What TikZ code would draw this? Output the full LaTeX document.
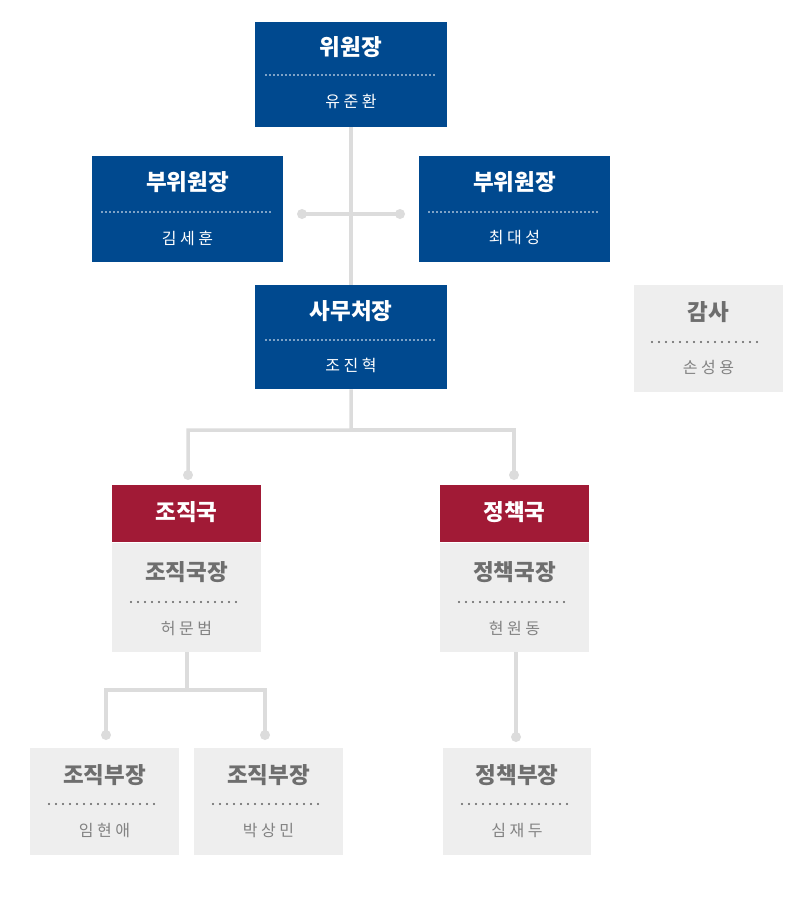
\documentclass[tikz,border=0pt]{standalone}
\usepackage{fontspec}
\setmainfont{Noto Sans CJK KR}
\newfontfamily\namefont[LetterSpace=22]{Noto Sans CJK KR}
\definecolor{orgblue}{RGB}{0,73,143}
\definecolor{orgred}{RGB}{161,26,54}
\definecolor{boxgray}{RGB}{238,238,238}
\definecolor{titlegray}{RGB}{110,110,110}
\definecolor{dotgray}{RGB}{95,95,95}
\definecolor{namegray}{RGB}{130,130,130}
\definecolor{conngray}{RGB}{220,220,220}
\tikzset{
  x=1pt, y=-1pt,
  bluebox/.style={fill=orgblue, draw=none, anchor=north west, inner sep=0pt},
  redbox/.style={fill=orgred, draw=none, anchor=north west, inner sep=0pt},
  graybox/.style={fill=boxgray, draw=none, anchor=north west, inner sep=0pt},
  wtitle/.style={text=white, font=\fontsize{22.5}{26}\selectfont\bfseries, inner sep=0pt},
  wname/.style={text=white, font=\fontsize{16}{19}\selectfont\namefont, inner sep=0pt},
  gtitle/.style={text=titlegray, font=\fontsize{22.5}{26}\selectfont\bfseries, inner sep=0pt},
  gname/.style={text=namegray, font=\fontsize{16}{19}\selectfont\namefont, inner sep=0pt},
  wdots/.style={white, line width=1.9pt, line cap=round, dash pattern=on 0pt off 4pt},
  gdots/.style={dotgray, line width=2.4pt, line cap=round, dash pattern=on 0pt off 7pt},
  conn/.style={conngray, line width=3.5pt},
  cdot/.style={fill=conngray, draw=none}
}
\begin{document}
\begin{tikzpicture}
\useasboundingbox (0,0) rectangle (800,900);
\coordinate (vl) at (302,214);
\coordinate (vr) at (400,214);
\coordinate (j1) at (351,430);
\coordinate (d1) at (188,475);
\coordinate (d2) at (514,475);
\coordinate (j2) at (187,690);
\coordinate (d3) at (106,735);
\coordinate (d4) at (265,735);
\coordinate (d5) at (516,737);

% boxes
\node[bluebox, minimum width=192pt, minimum height=105pt] (chair) at (255,22) {};
\node[bluebox, minimum width=191pt, minimum height=106pt] (vcl) at (92,156) {};
\node[bluebox, minimum width=191pt, minimum height=106pt] (vcr) at (419,156) {};
\node[bluebox, minimum width=192pt, minimum height=104pt] (sec) at (255,285) {};
\node[graybox, minimum width=149pt, minimum height=107pt] (aud) at (634,285) {};
\node[redbox, minimum width=149pt, minimum height=57pt] (orgd) at (112,485) {};
\node[graybox, minimum width=149pt, minimum height=109pt] (orgh) at (112,543) {};
\node[redbox, minimum width=149pt, minimum height=57pt] (pold) at (440,485) {};
\node[graybox, minimum width=149pt, minimum height=109pt] (polh) at (440,543) {};
\node[graybox, minimum width=149pt, minimum height=107pt] (om1) at (30,748) {};
\node[graybox, minimum width=149pt, minimum height=107pt] (om2) at (194,748) {};
\node[graybox, minimum width=148pt, minimum height=107pt] (pm1) at (443,748) {};

% connectors
\draw[conn] (chair.south) -- (sec.north);
\draw[conn] (vl) -- (vr);
\fill[cdot] (vl) circle (5);
\fill[cdot] (vr) circle (5);
\draw[conn] (sec.south) -- (j1) -| (d1);
\draw[conn] (j1) -| (d2);
\fill[cdot] (d1) circle (5);
\fill[cdot] (d2) circle (5);
\draw[conn] (orgh.south -| j2) -- (j2) -| (d3);
\draw[conn] (j2) -| (d4);
\fill[cdot] (d3) circle (5);
\fill[cdot] (d4) circle (5);
\draw[conn] (polh.south -| d5) -- (d5);
\fill[cdot] (d5) circle (5);

% texts
\node[wtitle] (chairT) at (351,47) {위원장};
\draw[wdots] (266,75) -- (437,75);
\node[wname] (chairN) at (351,101) {유준환};

\node[wtitle] (vclT) at (187.5,182) {부위원장};
\draw[wdots] (102,212) -- (273,212);
\node[wname] (vclN) at (187.5,238) {김세훈};

\node[wtitle] (vcrT) at (514.5,182) {부위원장};
\draw[wdots] (429,212) -- (600,212);
\node[wname] (vcrN) at (514.5,238) {최대성};

\node[wtitle] (secT) at (351,311) {사무처장};
\draw[wdots] (266,340) -- (437,340);
\node[wname] (secN) at (351,365) {조진혁};

\node[gtitle] (audT) at (708.5,312) {감사};
\draw[gdots] (652,342) -- (764,342);
\node[gname] (audN) at (708.5,367) {손성용};

\node[wtitle] (orgdT) at (186.5,512) {조직국};
\node[gtitle] (orghT) at (186.5,572) {조직국장};
\draw[gdots] (131,602) -- (243,602);
\node[gname] (orghN) at (186.5,628) {허문범};

\node[wtitle] (poldT) at (514.5,512) {정책국};
\node[gtitle] (polhT) at (514.5,572) {정책국장};
\draw[gdots] (459,602) -- (571,602);
\node[gname] (polhN) at (514.5,628) {현원동};

\node[gtitle] (om1T) at (104.5,775) {조직부장};
\draw[gdots] (49,804) -- (161,804);
\node[gname] (om1N) at (104.5,830) {임현애};

\node[gtitle] (om2T) at (268.5,775) {조직부장};
\draw[gdots] (213,804) -- (325,804);
\node[gname] (om2N) at (268.5,830) {박상민};

\node[gtitle] (pm1T) at (517,775) {정책부장};
\draw[gdots] (462,804) -- (574,804);
\node[gname] (pm1N) at (517,830) {심재두};
\end{tikzpicture}
\end{document}
